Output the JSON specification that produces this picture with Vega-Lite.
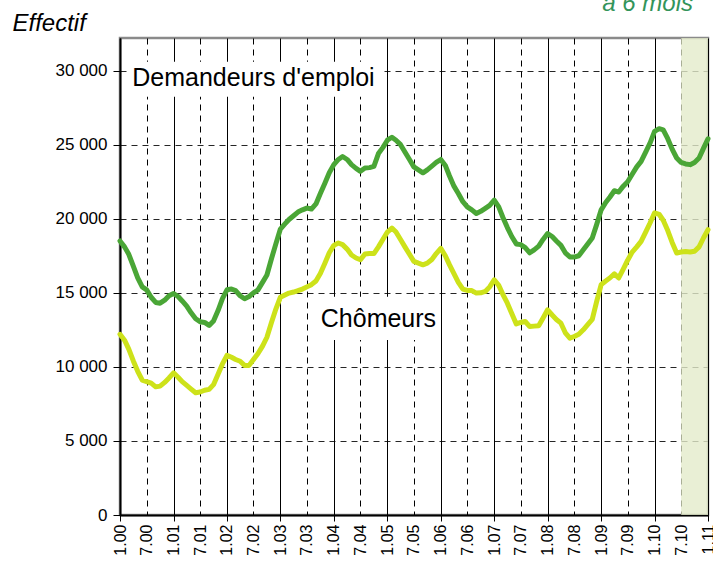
{
  "$schema": "https://vega.github.io/schema/vega-lite/v6.json",
  "width": 588,
  "height": 477,
  "autosize": "none",
  "padding": {"left": 120, "top": 38, "right": 5, "bottom": 50},
  "background": "white",
  "config": {
    "view": {"stroke": "#8a8a8a", "strokeWidth": 2.5},
    "font": "Liberation Sans"
  },
  "title": {
    "text": "à 6 mois",
    "anchor": "end",
    "frame": "group",
    "color": "#33945a",
    "font": "Liberation Sans",
    "fontStyle": "italic",
    "fontWeight": "normal",
    "fontSize": 24,
    "baseline": "alphabetic",
    "offset": 0,
    "dy": 24,
    "dx": -15
  },
  "datasets": {
    "series": [
      {"d": "2000-01", "Demandeurs": 18500, "Chomeurs": 12200},
      {"d": "2000-02", "Demandeurs": 18100, "Chomeurs": 11800},
      {"d": "2000-03", "Demandeurs": 17600, "Chomeurs": 11200},
      {"d": "2000-04", "Demandeurs": 16800, "Chomeurs": 10400},
      {"d": "2000-05", "Demandeurs": 16000, "Chomeurs": 9700},
      {"d": "2000-06", "Demandeurs": 15400, "Chomeurs": 9100},
      {"d": "2000-07", "Demandeurs": 15200, "Chomeurs": 9000},
      {"d": "2000-08", "Demandeurs": 14700, "Chomeurs": 8900},
      {"d": "2000-09", "Demandeurs": 14350, "Chomeurs": 8650},
      {"d": "2000-10", "Demandeurs": 14300, "Chomeurs": 8700},
      {"d": "2000-11", "Demandeurs": 14500, "Chomeurs": 8950},
      {"d": "2000-12", "Demandeurs": 14800, "Chomeurs": 9250},
      {"d": "2001-01", "Demandeurs": 14950, "Chomeurs": 9600},
      {"d": "2001-02", "Demandeurs": 14750, "Chomeurs": 9300},
      {"d": "2001-03", "Demandeurs": 14450, "Chomeurs": 9000},
      {"d": "2001-04", "Demandeurs": 14100, "Chomeurs": 8750},
      {"d": "2001-05", "Demandeurs": 13650, "Chomeurs": 8500},
      {"d": "2001-06", "Demandeurs": 13250, "Chomeurs": 8250},
      {"d": "2001-07", "Demandeurs": 13050, "Chomeurs": 8300},
      {"d": "2001-08", "Demandeurs": 13000, "Chomeurs": 8420},
      {"d": "2001-09", "Demandeurs": 12800, "Chomeurs": 8480},
      {"d": "2001-10", "Demandeurs": 13100, "Chomeurs": 8800},
      {"d": "2001-11", "Demandeurs": 13800, "Chomeurs": 9500},
      {"d": "2001-12", "Demandeurs": 14600, "Chomeurs": 10200},
      {"d": "2002-01", "Demandeurs": 15200, "Chomeurs": 10780},
      {"d": "2002-02", "Demandeurs": 15250, "Chomeurs": 10650},
      {"d": "2002-03", "Demandeurs": 15150, "Chomeurs": 10500},
      {"d": "2002-04", "Demandeurs": 14800, "Chomeurs": 10380},
      {"d": "2002-05", "Demandeurs": 14600, "Chomeurs": 10100},
      {"d": "2002-06", "Demandeurs": 14750, "Chomeurs": 10100},
      {"d": "2002-07", "Demandeurs": 15000, "Chomeurs": 10500},
      {"d": "2002-08", "Demandeurs": 15200, "Chomeurs": 10900},
      {"d": "2002-09", "Demandeurs": 15700, "Chomeurs": 11400},
      {"d": "2002-10", "Demandeurs": 16200, "Chomeurs": 12000},
      {"d": "2002-11", "Demandeurs": 17300, "Chomeurs": 13000},
      {"d": "2002-12", "Demandeurs": 18300, "Chomeurs": 13900},
      {"d": "2003-01", "Demandeurs": 19300, "Chomeurs": 14700},
      {"d": "2003-02", "Demandeurs": 19650, "Chomeurs": 14850},
      {"d": "2003-03", "Demandeurs": 19950, "Chomeurs": 14980},
      {"d": "2003-04", "Demandeurs": 20200, "Chomeurs": 15050},
      {"d": "2003-05", "Demandeurs": 20450, "Chomeurs": 15140},
      {"d": "2003-06", "Demandeurs": 20600, "Chomeurs": 15250},
      {"d": "2003-07", "Demandeurs": 20720, "Chomeurs": 15400},
      {"d": "2003-08", "Demandeurs": 20650, "Chomeurs": 15550},
      {"d": "2003-09", "Demandeurs": 21000, "Chomeurs": 15800},
      {"d": "2003-10", "Demandeurs": 21700, "Chomeurs": 16300},
      {"d": "2003-11", "Demandeurs": 22400, "Chomeurs": 17000},
      {"d": "2003-12", "Demandeurs": 23100, "Chomeurs": 17700},
      {"d": "2004-01", "Demandeurs": 23650, "Chomeurs": 18200},
      {"d": "2004-02", "Demandeurs": 24000, "Chomeurs": 18360},
      {"d": "2004-03", "Demandeurs": 24200, "Chomeurs": 18250},
      {"d": "2004-04", "Demandeurs": 24000, "Chomeurs": 17950},
      {"d": "2004-05", "Demandeurs": 23650, "Chomeurs": 17550},
      {"d": "2004-06", "Demandeurs": 23400, "Chomeurs": 17350},
      {"d": "2004-07", "Demandeurs": 23200, "Chomeurs": 17230},
      {"d": "2004-08", "Demandeurs": 23420, "Chomeurs": 17620},
      {"d": "2004-09", "Demandeurs": 23450, "Chomeurs": 17650},
      {"d": "2004-10", "Demandeurs": 23530, "Chomeurs": 17650},
      {"d": "2004-11", "Demandeurs": 24400, "Chomeurs": 18100},
      {"d": "2004-12", "Demandeurs": 24800, "Chomeurs": 18600},
      {"d": "2005-01", "Demandeurs": 25300, "Chomeurs": 19100},
      {"d": "2005-02", "Demandeurs": 25500, "Chomeurs": 19370},
      {"d": "2005-03", "Demandeurs": 25300, "Chomeurs": 19100},
      {"d": "2005-04", "Demandeurs": 25000, "Chomeurs": 18600},
      {"d": "2005-05", "Demandeurs": 24500, "Chomeurs": 18100},
      {"d": "2005-06", "Demandeurs": 24000, "Chomeurs": 17600},
      {"d": "2005-07", "Demandeurs": 23500, "Chomeurs": 17120},
      {"d": "2005-08", "Demandeurs": 23300, "Chomeurs": 17000},
      {"d": "2005-09", "Demandeurs": 23100, "Chomeurs": 16890},
      {"d": "2005-10", "Demandeurs": 23300, "Chomeurs": 17000},
      {"d": "2005-11", "Demandeurs": 23550, "Chomeurs": 17250},
      {"d": "2005-12", "Demandeurs": 23800, "Chomeurs": 17650},
      {"d": "2006-01", "Demandeurs": 24000, "Chomeurs": 18000},
      {"d": "2006-02", "Demandeurs": 23600, "Chomeurs": 17500},
      {"d": "2006-03", "Demandeurs": 22900, "Chomeurs": 16900},
      {"d": "2006-04", "Demandeurs": 22200, "Chomeurs": 16300},
      {"d": "2006-05", "Demandeurs": 21700, "Chomeurs": 15700},
      {"d": "2006-06", "Demandeurs": 21150, "Chomeurs": 15250},
      {"d": "2006-07", "Demandeurs": 20800, "Chomeurs": 15160},
      {"d": "2006-08", "Demandeurs": 20600, "Chomeurs": 15150},
      {"d": "2006-09", "Demandeurs": 20350, "Chomeurs": 14980},
      {"d": "2006-10", "Demandeurs": 20500, "Chomeurs": 15000},
      {"d": "2006-11", "Demandeurs": 20700, "Chomeurs": 15090},
      {"d": "2006-12", "Demandeurs": 20900, "Chomeurs": 15400},
      {"d": "2007-01", "Demandeurs": 21250, "Chomeurs": 15880},
      {"d": "2007-02", "Demandeurs": 20800, "Chomeurs": 15500},
      {"d": "2007-03", "Demandeurs": 20100, "Chomeurs": 14900},
      {"d": "2007-04", "Demandeurs": 19400, "Chomeurs": 14300},
      {"d": "2007-05", "Demandeurs": 18800, "Chomeurs": 13600},
      {"d": "2007-06", "Demandeurs": 18300, "Chomeurs": 12900},
      {"d": "2007-07", "Demandeurs": 18250, "Chomeurs": 13000},
      {"d": "2007-08", "Demandeurs": 18050, "Chomeurs": 13060},
      {"d": "2007-09", "Demandeurs": 17700, "Chomeurs": 12720},
      {"d": "2007-10", "Demandeurs": 17900, "Chomeurs": 12750},
      {"d": "2007-11", "Demandeurs": 18150, "Chomeurs": 12780},
      {"d": "2007-12", "Demandeurs": 18600, "Chomeurs": 13300},
      {"d": "2008-01", "Demandeurs": 19000, "Chomeurs": 13850},
      {"d": "2008-02", "Demandeurs": 18800, "Chomeurs": 13500},
      {"d": "2008-03", "Demandeurs": 18500, "Chomeurs": 13200},
      {"d": "2008-04", "Demandeurs": 18200, "Chomeurs": 12950},
      {"d": "2008-05", "Demandeurs": 17700, "Chomeurs": 12300},
      {"d": "2008-06", "Demandeurs": 17420, "Chomeurs": 11940},
      {"d": "2008-07", "Demandeurs": 17410, "Chomeurs": 12050},
      {"d": "2008-08", "Demandeurs": 17500, "Chomeurs": 12200},
      {"d": "2008-09", "Demandeurs": 17900, "Chomeurs": 12500},
      {"d": "2008-10", "Demandeurs": 18300, "Chomeurs": 12850},
      {"d": "2008-11", "Demandeurs": 18700, "Chomeurs": 13200},
      {"d": "2008-12", "Demandeurs": 19600, "Chomeurs": 14400},
      {"d": "2009-01", "Demandeurs": 20600, "Chomeurs": 15550},
      {"d": "2009-02", "Demandeurs": 21100, "Chomeurs": 15800},
      {"d": "2009-03", "Demandeurs": 21450, "Chomeurs": 16000},
      {"d": "2009-04", "Demandeurs": 21890, "Chomeurs": 16280},
      {"d": "2009-05", "Demandeurs": 21800, "Chomeurs": 16000},
      {"d": "2009-06", "Demandeurs": 22200, "Chomeurs": 16600},
      {"d": "2009-07", "Demandeurs": 22500, "Chomeurs": 17200},
      {"d": "2009-08", "Demandeurs": 23000, "Chomeurs": 17750},
      {"d": "2009-09", "Demandeurs": 23500, "Chomeurs": 18100},
      {"d": "2009-10", "Demandeurs": 23870, "Chomeurs": 18470},
      {"d": "2009-11", "Demandeurs": 24500, "Chomeurs": 19100},
      {"d": "2009-12", "Demandeurs": 25110, "Chomeurs": 19710},
      {"d": "2010-01", "Demandeurs": 25900, "Chomeurs": 20400},
      {"d": "2010-02", "Demandeurs": 26080, "Chomeurs": 20300},
      {"d": "2010-03", "Demandeurs": 26000, "Chomeurs": 19900},
      {"d": "2010-04", "Demandeurs": 25400, "Chomeurs": 19200},
      {"d": "2010-05", "Demandeurs": 24700, "Chomeurs": 18400},
      {"d": "2010-06", "Demandeurs": 24100, "Chomeurs": 17680},
      {"d": "2010-07", "Demandeurs": 23800, "Chomeurs": 17750},
      {"d": "2010-08", "Demandeurs": 23700, "Chomeurs": 17780},
      {"d": "2010-09", "Demandeurs": 23650, "Chomeurs": 17750},
      {"d": "2010-10", "Demandeurs": 23800, "Chomeurs": 17800},
      {"d": "2010-11", "Demandeurs": 24100, "Chomeurs": 18100},
      {"d": "2010-12", "Demandeurs": 24750, "Chomeurs": 18700},
      {"d": "2011-01", "Demandeurs": 25400, "Chomeurs": 19260}
    ],
    "shade": [{"d": "2010-07", "d2": "2011-01"}],
    "boxes": [
      {"d": "2000-03", "d2": "2004-12", "value": 30600, "value2": 28240},
      {"d": "2003-09", "d2": "2005-12", "value": 14730, "value2": 11820}
    ],
    "labels": [
      {"d": "2002-07", "value": 29500, "label": "Demandeurs d'emploi"},
      {"d": "2004-11", "value": 13250, "label": "Chômeurs"}
    ]
  },
  "layer": [
    {
      "data": {"name": "shade"},
      "mark": {"type": "rect", "color": "#e3ebcb", "opacity": 0.8},
      "encoding": {
        "x": {"field": "d", "type": "temporal", "title": null},
        "x2": {"field": "d2"}
      }
    },
    {
      "data": {"name": "boxes"},
      "mark": {"type": "rect", "color": "white"},
      "encoding": {
        "x": {"field": "d", "type": "temporal", "title": null},
        "x2": {"field": "d2"},
        "y": {"field": "value", "type": "quantitative", "title": "Effectif"},
        "y2": {"field": "value2"}
      }
    },
    {
      "data": {"name": "series"},
      "transform": [{"fold": ["Demandeurs", "Chomeurs"], "as": ["serie", "value"]}],
      "mark": {"type": "line", "strokeWidth": 5, "strokeCap": "round", "strokeJoin": "round"},
      "encoding": {
        "x": {
          "field": "d",
          "type": "temporal",
          "title": null,
          "scale": {
            "type": "utc",
            "nice": false,
            "domain": [
              {"year": 2000, "month": 1, "date": 1, "utc": true},
              {"year": 2011, "month": 1, "date": 1, "utc": true}
            ]
          },
          "axis": {
            "tickCount": {"interval": "month", "step": 6},
            "format": "%-m.%y",
            "labelAngle": 270,
            "labelAlign": "right",
            "labelBaseline": "middle",
            "labelFontSize": 16,
            "labelColor": "black",
            "labelPadding": 3,
            "labelOverlap": false,
            "labelBound": false,
            "labelFlush": false,
            "tickSize": 6,
            "tickColor": "black",
            "tickWidth": 1,
            "tickOpacity": {"condition": {"test": "utcmonth(datum.value) === 0", "value": 1}, "value": 0},
            "domainColor": "black",
            "domainWidth": 2,
            "grid": true,
            "gridColor": "black",
            "gridWidth": 1,
            "gridDash": {"condition": {"test": "utcmonth(datum.value) === 0", "value": []}, "value": [6, 5]}
          }
        },
        "y": {
          "field": "value",
          "type": "quantitative",
          "scale": {"domain": [0, 32200], "nice": false},
          "axis": {
            "values": [0, 5000, 10000, 15000, 20000, 25000, 30000],
            "labelExpr": "replace(format(datum.value, ','), ',', ' ')",
            "labelFontSize": 17,
            "labelColor": "black",
            "labelPadding": 6,
            "tickSize": 7,
            "tickColor": "black",
            "tickWidth": 1,
            "domainColor": "black",
            "domainWidth": 2,
            "grid": true,
            "gridColor": "black",
            "gridWidth": 1,
            "gridDash": [6, 5],
            "gridOpacity": 0.85,
            "title": "Effectif",
            "titleAngle": 0,
            "titleX": -108,
            "titleY": -8,
            "titleAlign": "left",
            "titleBaseline": "alphabetic",
            "titleFont": "Liberation Sans",
            "titleFontStyle": "italic",
            "titleFontWeight": "normal",
            "titleFontSize": 24,
            "titleColor": "black"
          }
        },
        "color": {
          "field": "serie",
          "type": "nominal",
          "scale": {"domain": ["Demandeurs", "Chomeurs"], "range": ["#4aa636", "#cde21a"]},
          "legend": null
        }
      }
    },
    {
      "data": {"name": "labels"},
      "mark": {"type": "text", "fontSize": 25, "color": "black", "baseline": "middle", "align": "center"},
      "encoding": {
        "x": {"field": "d", "type": "temporal", "title": null},
        "y": {"field": "value", "type": "quantitative"},
        "text": {"field": "label"}
      }
    }
  ]
}
